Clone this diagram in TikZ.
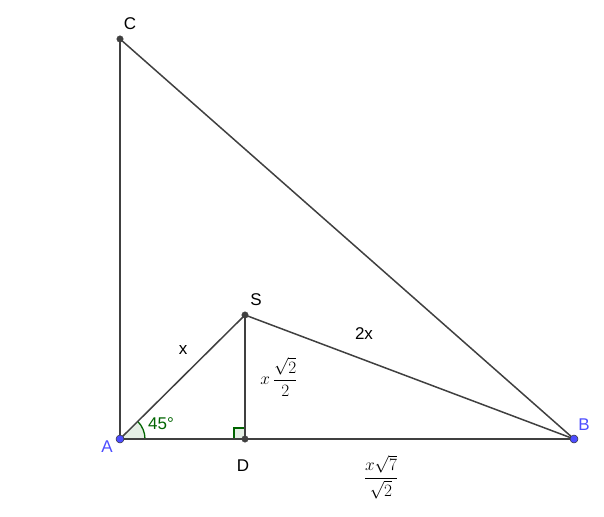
\documentclass[tikz,border=0pt]{standalone}
\usepackage{fontspec}
\setsansfont{Liberation Sans}
\usepackage{amsmath}
\usetikzlibrary{calc}
\definecolor{ln}{RGB}{64,64,64}
\definecolor{ptblue}{RGB}{77,77,255}
\definecolor{angg}{RGB}{0,100,0}
\begin{document}
\begin{tikzpicture}[x=1pt,y=-1pt,
  seg/.style={draw=ln,line width=1.5pt},
  freept/.style={circle,fill=ptblue,draw=ln!80!black,line width=0.5pt,inner sep=0pt,minimum size=8pt},
  deppt/.style={circle,fill=ln,draw=ln,inner sep=0pt,minimum size=6.5pt},
  lbl/.style={font=\sffamily\fontsize{17}{19}\selectfont,inner sep=0pt},
  mlbl/.style={font=\fontsize{18.5}{21}\selectfont,inner sep=0pt}]
\useasboundingbox (0,0) rectangle (604,516);
\coordinate (A) at (120,439);
\coordinate (B) at (574,439);
\coordinate (C) at (120,39);
\coordinate (S) at (245,315);
\coordinate (D) at (245,439);
% angle at A
\fill[angg!10] (A) -- ($(A)+(25,0)$) arc[start angle=0,end angle=-45,radius=25] -- cycle;
\draw[angg,line width=1.3pt] ($(A)+(25,0)$) arc[start angle=0,end angle=-45,radius=25];
% right angle at D
\filldraw[fill=angg!10,draw=angg,line width=1.2pt] (D) rectangle ++(-11,-11);
\draw[seg] (A) -- (B);
\draw[seg] (A) -- (C);
\draw[seg] (C) -- (B);
\draw[seg] (A) -- (S);
\draw[seg] (S) -- (B);
\draw[seg] (S) -- (D);
\node[deppt] (Cp) at (C) {};
\node[deppt] (Sp) at (S) {};
\node[deppt] (Dp) at (D) {};
\node[freept] (Ap) at (A) {};
\node[freept] (Bp) at (B) {};
\node[lbl] (Cl) at (130,24) {C};
\node[lbl] (Sl) at (256,300) {S};
\node[lbl,text=ptblue] (Bl) at (584,425) {B};
\node[lbl,text=ptblue] (Al) at (107,447) {A};
\node[lbl] (Dl) at (243,466) {D};
\node[lbl] (xl) at (183,350) {x};
\node[lbl] (x2l) at (364,334) {2x};
\node[lbl,text=angg] (al) at (161,424) {45°};
\node[mlbl] (f1) at (279,377) {$x\,\dfrac{\sqrt{2}}{2}$};
\node[mlbl] (f2) at (381,477) {$\dfrac{x\sqrt{7}}{\sqrt{2}}$};
\end{tikzpicture}
\end{document}
